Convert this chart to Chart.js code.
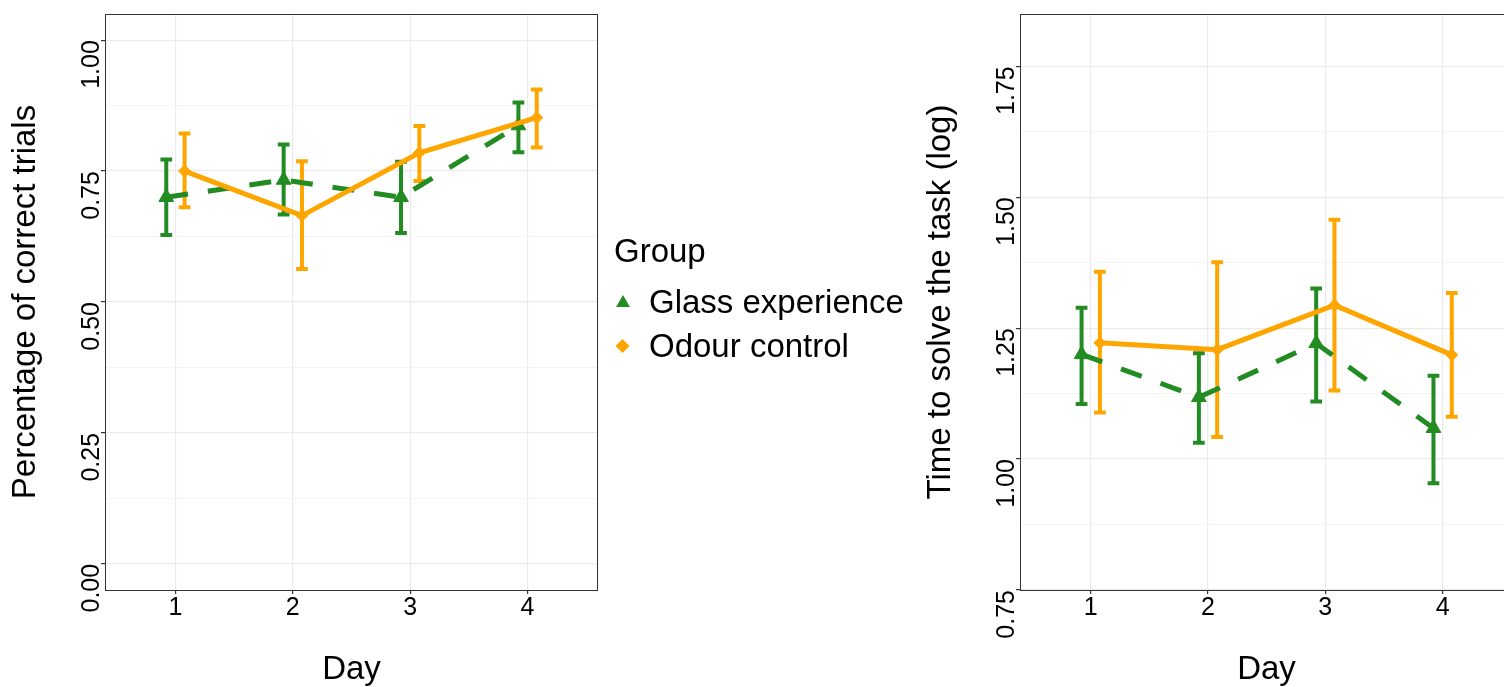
<!DOCTYPE html>
<html>
<head>
<meta charset="utf-8">
<script src="https://cdn.jsdelivr.net/npm/chart.js@4.4.1/dist/chart.umd.min.js"></script>
<style>
  html, body { margin: 0; padding: 0; background: #fff; overflow: hidden; width: 1504px; height: 687px; }
  .panel { position: absolute; top: 0; height: 687px; }
  #left { left: 0; width: 910px; }
  #right { left: 915px; width: 598px; }
</style>
</head>
<body>
<div class="panel" id="left"><canvas id="correctChart"></canvas></div>
<div class="panel" id="right"><canvas id="timeChart"></canvas></div>
<script>
// Values
const days = [1, 2, 3, 4];
const groupTitle = 'Group';
const groupNames = ['Glass experience', 'Odour control'];

// left panel: percentage of correct trials
const correctGlass = [0.700, 0.733, 0.700, 0.837];
const correctGlassLo = [0.628, 0.667, 0.632, 0.786];
const correctGlassHi = [0.772, 0.801, 0.768, 0.881];
const correctOdour = [0.750, 0.665, 0.785, 0.852];
const correctOdourLo = [0.681, 0.563, 0.731, 0.795];
const correctOdourHi = [0.822, 0.769, 0.836, 0.906];
const correctTicks = [0, 0.25, 0.5, 0.75, 1];
const correctMinor = [0.125, 0.375, 0.625, 0.875];

// right panel: time to solve the task (log)
const timeGlass = [1.200, 1.118, 1.221, 1.059];
const timeGlassLo = [1.105, 1.031, 1.110, 0.954];
const timeGlassHi = [1.289, 1.202, 1.326, 1.159];
const timeOdour = [1.222, 1.209, 1.294, 1.199];
const timeOdourLo = [1.089, 1.042, 1.131, 1.081];
const timeOdourHi = [1.358, 1.376, 1.457, 1.317];
const timeTicks = [0.75, 1, 1.25, 1.5, 1.75];
const timeMinor = [0.875, 1.125, 1.375, 1.625];

const FONT = "'Liberation Sans', Arial, sans-serif";
const green = '#228B22';
const orange = '#FFA500';
const dodge = 0.078;   // position_dodge
const capHalf = 0.05;  // errorbar width / 2

Chart.defaults.font.family = FONT;
Chart.defaults.color = '#000';

function trianglePath(ctx, x, y, r) {
  ctx.beginPath();
  ctx.moveTo(x, y - r);
  ctx.lineTo(x + r * Math.sqrt(3) / 2, y + r / 2);
  ctx.lineTo(x - r * Math.sqrt(3) / 2, y + r / 2);
  ctx.closePath();
}

function diamondPath(ctx, x, y, r) {
  ctx.beginPath();
  ctx.moveTo(x, y - r);
  ctx.lineTo(x + r, y);
  ctx.lineTo(x, y + r);
  ctx.lineTo(x - r, y);
  ctx.closePath();
}

// error bars, panel border, rotated y labels, legend
const panelPlugin = {
  id: 'panel',
  beforeDatasetsDraw(chart, args, opts) {
    const ctx = chart.ctx, xs = chart.scales.x, ys = chart.scales.y;
    ctx.save();
    ctx.lineWidth = 4;
    ctx.lineCap = 'butt';
    opts.errorBars.forEach(eb => {
      ctx.strokeStyle = eb.color;
      days.forEach((d, i) => {
        const x = xs.getPixelForValue(d + eb.shift);
        const x0 = xs.getPixelForValue(d + eb.shift - capHalf);
        const x1 = xs.getPixelForValue(d + eb.shift + capHalf);
        const yLo = ys.getPixelForValue(eb.lo[i]);
        const yHi = ys.getPixelForValue(eb.hi[i]);
        ctx.beginPath();
        ctx.moveTo(x, yLo); ctx.lineTo(x, yHi);
        ctx.moveTo(x0, yLo); ctx.lineTo(x1, yLo);
        ctx.moveTo(x0, yHi); ctx.lineTo(x1, yHi);
        ctx.stroke();
      });
    });
    ctx.restore();
  },
  afterDraw(chart, args, opts) {
    const ctx = chart.ctx, a = chart.chartArea, ys = chart.scales.y;
    ctx.save();
    ctx.strokeStyle = '#333';
    ctx.lineWidth = 1;
    ctx.strokeRect(Math.round(a.left) + 0.5, Math.round(a.top) + 0.5,
      Math.round(a.right - a.left) - 1, Math.round(a.bottom - a.top));

    ctx.fillStyle = '#000';
    ctx.font = '25px ' + FONT;
    ctx.textAlign = 'right';
    ctx.textBaseline = 'alphabetic';
    opts.yTicks.forEach(v => {
      ctx.save();
      ctx.translate(a.left - 6, ys.getPixelForValue(v));
      ctx.rotate(-Math.PI / 2);
      ctx.fillText(v.toFixed(2), 0, 0);
      ctx.restore();
    });

    if (opts.legend) {
      ctx.font = '33px ' + FONT;
      ctx.textAlign = 'left';
      ctx.fillText(groupTitle, 614, 262);
      ctx.fillStyle = green;
      trianglePath(ctx, 623, 303, 8);
      ctx.fill();
      ctx.fillStyle = orange;
      diamondPath(ctx, 622.5, 346, 7);
      ctx.fill();
      ctx.fillStyle = '#000';
      ctx.fillText(chart.data.datasets[0].label, 649, 313);
      ctx.fillText(chart.data.datasets[1].label, 649, 357);
    }
    ctx.restore();
  }
};

function makePanel(canvasId, p) {
  const isMajor = v => p.yTicks.some(t => Math.abs(t - v) < 1e-9);
  return new Chart(document.getElementById(canvasId), {
    type: 'line',
    data: {
      datasets: [
        {
          label: groupNames[0],
          data: days.map((d, i) => ({ x: d - dodge, y: p.glass[i] })),
          borderColor: green,
          backgroundColor: green,
          borderWidth: 5,
          borderDash: [22, 20],
          pointStyle: 'triangle',
          pointRadius: 8.5,
          pointBorderWidth: 1,
          order: 2
        },
        {
          label: groupNames[1],
          data: days.map((d, i) => ({ x: d + dodge, y: p.odour[i] })),
          borderColor: orange,
          backgroundColor: orange,
          borderWidth: 5,
          pointStyle: 'rectRot',
          pointRadius: 6,
          pointBorderWidth: 1,
          order: 1
        }
      ]
    },
    options: {
      responsive: true,
      maintainAspectRatio: false,
      animation: false,
      layout: { autoPadding: false, padding: { top: 14, right: p.padRight, bottom: 0, left: 0 } },
      plugins: {
        legend: { display: false },
        tooltip: { enabled: false },
        panel: {
          yTicks: p.yTicks,
          legend: p.legend,
          errorBars: [
            { color: green, shift: -dodge, lo: p.glassLo, hi: p.glassHi },
            { color: orange, shift: dodge, lo: p.odourLo, hi: p.odourHi }
          ]
        }
      },
      scales: {
        x: {
          type: 'linear',
          min: p.xMin,
          max: p.xMax,
          afterBuildTicks: s => { s.ticks = days.map(v => ({ value: v })); },
          afterFit: s => { s.height = 97; },
          grid: { color: '#EBEBEB', lineWidth: 1.2, tickColor: '#333', tickLength: 4 },
          border: { display: false },
          ticks: { autoSkip: false, maxRotation: 0, font: { size: 25, lineHeight: 1 }, padding: 2, color: '#000', callback: v => String(v) },
          title: { display: true, text: 'Day', color: '#000', font: { size: 33, lineHeight: 1.2 }, padding: { top: 0, bottom: -3 } }
        },
        y: {
          type: 'linear',
          min: p.yMin,
          max: p.yMax,
          afterBuildTicks: s => {
            s.ticks = p.yTicks.concat(p.yMinor).sort((a, b) => a - b).map(v => ({ value: v }));
          },
          afterFit: s => { s.width = 105; },
          grid: {
            color: c => isMajor(c.tick.value) ? '#EBEBEB' : '#F4F4F4',
            lineWidth: c => isMajor(c.tick.value) ? 1.2 : 1,
            tickColor: c => isMajor(c.tick.value) ? '#333' : 'rgba(0,0,0,0)',
            tickLength: 4
          },
          border: { display: false },
          ticks: { display: false },
          title: { display: true, text: p.yTitle, color: '#000', font: { size: 33, lineHeight: 1.2 }, padding: { top: 6, bottom: 0 } }
        }
      }
    },
    plugins: [panelPlugin]
  });
}

makePanel('correctChart', {
  glass: correctGlass, glassLo: correctGlassLo, glassHi: correctGlassHi,
  odour: correctOdour, odourLo: correctOdourLo, odourHi: correctOdourHi,
  yTicks: correctTicks, yMinor: correctMinor,
  yMin: -0.05, yMax: 1.05, xMin: 0.4, xMax: 4.6,
  yTitle: 'Percentage of correct trials',
  padRight: 312, legend: true
});

// right panel runs slightly past the window edge, as in the source figure
makePanel('timeChart', {
  glass: timeGlass, glassLo: timeGlassLo, glassHi: timeGlassHi,
  odour: timeOdour, odourLo: timeOdourLo, odourHi: timeOdourHi,
  yTicks: timeTicks, yMinor: timeMinor,
  yMin: 0.75, yMax: 1.85, xMin: 0.397, xMax: 4.6,
  yTitle: 'Time to solve the task (log)',
  padRight: 0, legend: false
});
</script>
</body>
</html>
